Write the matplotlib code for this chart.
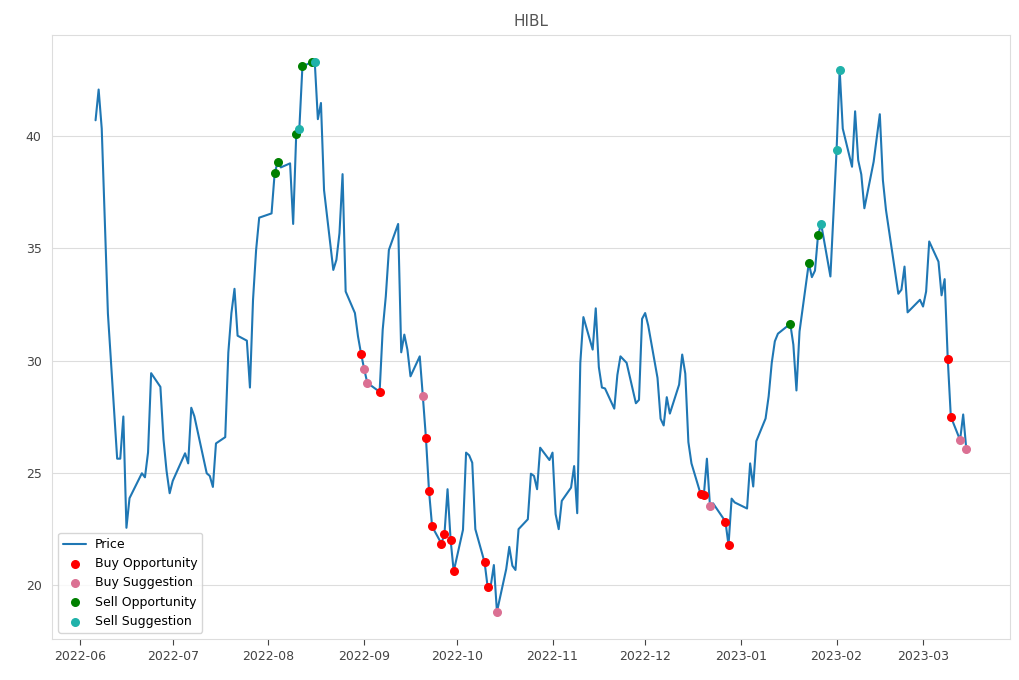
import pandas as pd
import matplotlib.pyplot as plt
import seaborn as sns

# ---------- Données ----------
price_dates = [
    "2022-06-06", "2022-06-07", "2022-06-08", "2022-06-10", "2022-06-13", "2022-06-14",
    "2022-06-15", "2022-06-16", "2022-06-17", "2022-06-21", "2022-06-22", "2022-06-23",
    "2022-06-24", "2022-06-27", "2022-06-28", "2022-06-29", "2022-06-30", "2022-07-01",
    "2022-07-05", "2022-07-06", "2022-07-07", "2022-07-08", "2022-07-12", "2022-07-13",
    "2022-07-14", "2022-07-15", "2022-07-18", "2022-07-19", "2022-07-20", "2022-07-21",
    "2022-07-22", "2022-07-25", "2022-07-26", "2022-07-27", "2022-07-28", "2022-07-29",
    "2022-08-02", "2022-08-03", "2022-08-04", "2022-08-05", "2022-08-08", "2022-08-09",
    "2022-08-10", "2022-08-11", "2022-08-12", "2022-08-15", "2022-08-16", "2022-08-17",
    "2022-08-18", "2022-08-19", "2022-08-22", "2022-08-23", "2022-08-24", "2022-08-25",
    "2022-08-26", "2022-08-29", "2022-08-30", "2022-08-31", "2022-09-01", "2022-09-02",
    "2022-09-06", "2022-09-07", "2022-09-08", "2022-09-09", "2022-09-12", "2022-09-13",
    "2022-09-14", "2022-09-15", "2022-09-16", "2022-09-19", "2022-09-20", "2022-09-21",
    "2022-09-22", "2022-09-23", "2022-09-26", "2022-09-27", "2022-09-28", "2022-09-29",
    "2022-09-30", "2022-10-03", "2022-10-04", "2022-10-05", "2022-10-06", "2022-10-07",
    "2022-10-10", "2022-10-11", "2022-10-12", "2022-10-13", "2022-10-14", "2022-10-17",
    "2022-10-18", "2022-10-19", "2022-10-20", "2022-10-21", "2022-10-24", "2022-10-25",
    "2022-10-26", "2022-10-27", "2022-10-28", "2022-10-31", "2022-11-01", "2022-11-02",
    "2022-11-03", "2022-11-04", "2022-11-07", "2022-11-08", "2022-11-09", "2022-11-10",
    "2022-11-11", "2022-11-14", "2022-11-15", "2022-11-16", "2022-11-17", "2022-11-18",
    "2022-11-21", "2022-11-22", "2022-11-23", "2022-11-25", "2022-11-28", "2022-11-29",
    "2022-11-30", "2022-12-01", "2022-12-02", "2022-12-05", "2022-12-06", "2022-12-07",
    "2022-12-08", "2022-12-09", "2022-12-12", "2022-12-13", "2022-12-14", "2022-12-15",
    "2022-12-16", "2022-12-19", "2022-12-20", "2022-12-21", "2022-12-22", "2022-12-23",
    "2022-12-27", "2022-12-28", "2022-12-29", "2022-12-30", "2023-01-03", "2023-01-04",
    "2023-01-05", "2023-01-06", "2023-01-09", "2023-01-10", "2023-01-11", "2023-01-12",
    "2023-01-13", "2023-01-17", "2023-01-18", "2023-01-19", "2023-01-20", "2023-01-23",
    "2023-01-24", "2023-01-25", "2023-01-26", "2023-01-27", "2023-01-30", "2023-02-01",
    "2023-02-02", "2023-02-03", "2023-02-06", "2023-02-07", "2023-02-08", "2023-02-09",
    "2023-02-10", "2023-02-13", "2023-02-15", "2023-02-16", "2023-02-17", "2023-02-21",
    "2023-02-22", "2023-02-23", "2023-02-24", "2023-02-28", "2023-03-01", "2023-03-02",
    "2023-03-03", "2023-03-06", "2023-03-07", "2023-03-08", "2023-03-09", "2023-03-10",
    "2023-03-13", "2023-03-14", "2023-03-15",
]
price_values = [
    40.71, 42.08, 40.34, 32.10, 25.63, 25.63,
    27.51, 22.55, 23.87, 24.98, 24.80, 25.91,
    29.44, 28.83, 26.49, 25.08, 24.09, 24.64,
    25.87, 25.42, 27.90, 27.52, 24.98, 24.86,
    24.37, 26.31, 26.59, 30.36, 32.12, 33.20,
    31.11, 30.89, 28.80, 32.71, 34.93, 36.37,
    36.56, 38.34, 38.86, 38.61, 38.79, 36.09,
    40.12, 40.34, 43.11, 43.30, 43.30, 40.76,
    41.48, 37.60, 34.04, 34.49, 35.68, 38.31,
    33.08, 32.12, 31.08, 30.30, 29.63, 29.01,
    28.61, 31.38, 32.86, 34.93, 36.09, 30.37,
    31.16, 30.49, 29.30, 30.19, 28.41, 26.56,
    24.19, 22.61, 21.85, 22.27, 24.27, 22.00,
    20.61, 22.46, 25.90, 25.78, 25.45, 22.49,
    21.01, 19.90, 19.97, 20.89, 18.81, 20.71,
    21.70, 20.86, 20.67, 22.49, 22.93, 24.96,
    24.86, 24.27, 26.12, 25.57, 25.90, 23.16,
    22.49, 23.75, 24.34, 25.30, 23.20, 29.90,
    31.94, 30.49, 32.33, 29.71, 28.80, 28.76,
    27.86, 29.36, 30.19, 29.90, 28.10, 28.25,
    31.86, 32.12, 31.56, 29.23, 27.41, 27.11,
    28.37, 27.64, 28.93, 30.27, 29.42, 26.37,
    25.42, 24.04, 24.00, 25.63, 23.51, 23.64,
    22.83, 21.78, 23.85, 23.68, 23.41, 25.42,
    24.39, 26.41, 27.42, 28.41, 29.90, 30.86,
    31.20, 31.64, 30.71, 28.67, 31.30, 34.34,
    33.72, 34.01, 35.60, 36.09, 33.75, 39.38,
    42.96, 40.34, 38.64, 41.11, 38.93, 38.30,
    36.79, 38.86, 40.98, 38.04, 36.71, 32.98,
    33.16, 34.19, 32.15, 32.71, 32.41, 33.08,
    35.31, 34.41, 32.91, 33.63, 30.08, 27.50,
    26.46, 27.60, 26.08,
]

buy_opp_dates = [
    "2022-08-31", "2022-09-06", "2022-09-21", "2022-09-22", "2022-09-23", "2022-09-26",
    "2022-09-27", "2022-09-29", "2022-09-30", "2022-10-10", "2022-10-11", "2022-12-19",
    "2022-12-20", "2022-12-27", "2022-12-28", "2023-03-09", "2023-03-10",
]
buy_opp_values = [
    30.30, 28.61, 26.56, 24.19, 22.61, 21.85,
    22.27, 22.00, 20.61, 21.01, 19.90, 24.04,
    24.00, 22.83, 21.78, 30.08, 27.50,
]

buy_sug_dates = ["2022-09-01", "2022-09-02", "2022-09-20", "2022-10-14",
                 "2022-12-22", "2023-03-13", "2023-03-15"]
buy_sug_values = [29.63, 29.01, 28.41, 18.81, 23.51, 26.46, 26.08]

sell_opp_dates = ["2022-08-03", "2022-08-04", "2022-08-10", "2022-08-12",
                  "2022-08-15", "2023-01-17", "2023-01-23", "2023-01-26"]
sell_opp_values = [38.34, 38.86, 40.12, 43.11, 43.30, 31.64, 34.34, 35.60]

sell_sug_dates = ["2022-08-11", "2022-08-16", "2023-01-27", "2023-02-01", "2023-02-02"]
sell_sug_values = [40.34, 43.30, 36.09, 39.38, 42.96]

# ---------- Style ----------
sns.set_style("whitegrid")
plt.rcParams["font.family"] = ["DejaVu Sans"]

fig, ax = plt.subplots(figsize=(10.2, 6.8), dpi=100)
fig.subplots_adjust(left=0.051, right=0.99, top=0.949, bottom=0.06)

ax.plot(pd.to_datetime(price_dates), price_values, color="#1f77b4", lw=1.5, label="Price")
ax.scatter(pd.to_datetime(buy_opp_dates), buy_opp_values, color="red", s=30, label="Buy Opportunity", zorder=3)
ax.scatter(pd.to_datetime(buy_sug_dates), buy_sug_values, color="palevioletred", s=30, label="Buy Suggestion", zorder=3)
ax.scatter(pd.to_datetime(sell_opp_dates), sell_opp_values, color="green", s=30, label="Sell Opportunity", zorder=3)
ax.scatter(pd.to_datetime(sell_sug_dates), sell_sug_values, color="lightseagreen", s=30, label="Sell Suggestion", zorder=3)

ax.set_title("HIBL", color="#555555", fontsize=11)
ax.grid(axis="x", visible=False)
ax.grid(axis="y", color="#dddddd")
for s in ax.spines.values():
    s.set_color("#dddddd")
ax.tick_params(axis="both", colors="#444444", labelsize=9, length=4, bottom=True, color="#444444")
ax.tick_params(axis="y", left=False)
ax.legend(loc="lower left", fontsize=9, frameon=True, labelcolor="black",
          handlelength=1.8, handletextpad=0.7)

fig.savefig("out.png")
